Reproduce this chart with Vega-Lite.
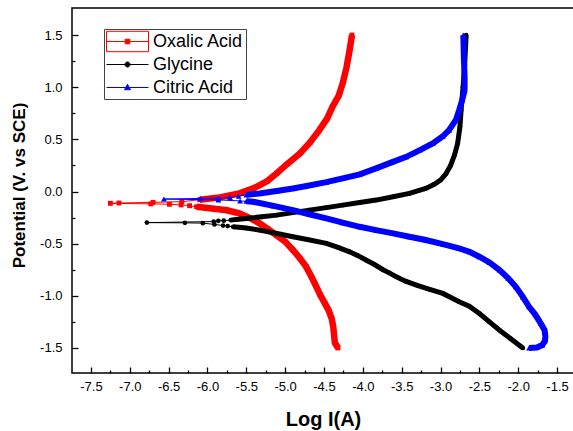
{
  "$schema": "https://vega.github.io/schema/vega-lite/v6.json",
  "width": 502,
  "height": 365,
  "autosize": {"type": "none"},
  "padding": {"left": 72, "top": 8, "right": 0, "bottom": 58},
  "background": "white",
  "config": {
    "view": {"stroke": "#000", "strokeWidth": 1.5},
    "font": "Liberation Sans",
    "locale": {"number": {"decimal": ".", "thousands": ",", "grouping": [3], "currency": ["$", ""], "minus": "-"}},
    "axis": {"domain": false, "grid": false, "tickColor": "#000", "tickWidth": 1.3, "labelColor": "#000", "labelFont": "Liberation Sans", "labelFontSize": 13, "labelFlush": false, "titleFont": "Liberation Sans", "titleColor": "#000", "titleFontWeight": "bold"}
  },
  "data": {"values": [
    {"s":"Oxalic Acid","b":"cathodic","x":-4.32,"y":-1.50},
    {"s":"Oxalic Acid","b":"cathodic","x":-4.36,"y":-1.45},
    {"s":"Oxalic Acid","b":"cathodic","x":-4.37,"y":-1.38},
    {"s":"Oxalic Acid","b":"cathodic","x":-4.38,"y":-1.30},
    {"s":"Oxalic Acid","b":"cathodic","x":-4.40,"y":-1.22},
    {"s":"Oxalic Acid","b":"cathodic","x":-4.44,"y":-1.14},
    {"s":"Oxalic Acid","b":"cathodic","x":-4.49,"y":-1.07},
    {"s":"Oxalic Acid","b":"cathodic","x":-4.55,"y":-0.99},
    {"s":"Oxalic Acid","b":"cathodic","x":-4.60,"y":-0.91},
    {"s":"Oxalic Acid","b":"cathodic","x":-4.66,"y":-0.82},
    {"s":"Oxalic Acid","b":"cathodic","x":-4.73,"y":-0.72},
    {"s":"Oxalic Acid","b":"cathodic","x":-4.81,"y":-0.64},
    {"s":"Oxalic Acid","b":"cathodic","x":-4.90,"y":-0.56},
    {"s":"Oxalic Acid","b":"cathodic","x":-5.00,"y":-0.48},
    {"s":"Oxalic Acid","b":"cathodic","x":-5.11,"y":-0.42},
    {"s":"Oxalic Acid","b":"cathodic","x":-5.22,"y":-0.36},
    {"s":"Oxalic Acid","b":"cathodic","x":-5.33,"y":-0.305},
    {"s":"Oxalic Acid","b":"cathodic","x":-5.45,"y":-0.255},
    {"s":"Oxalic Acid","b":"cathodic","x":-5.59,"y":-0.21},
    {"s":"Oxalic Acid","b":"cathodic","x":-5.75,"y":-0.18},
    {"s":"Oxalic Acid","b":"cathodic","x":-5.97,"y":-0.16},
    {"s":"Oxalic Acid","b":"cathodic","x":-6.14,"y":-0.146},
    {"s":"Oxalic Acid","b":"cathodic","x":-6.23,"y":-0.136},
    {"s":"Oxalic Acid","b":"cathodic","x":-6.34,"y":-0.128},
    {"s":"Oxalic Acid","b":"cathodic","x":-6.49,"y":-0.122},
    {"s":"Oxalic Acid","b":"cathodic","x":-6.73,"y":-0.118},
    {"s":"Oxalic Acid","b":"cathodic","x":-7.25,"y":-0.113},
    {"s":"Oxalic Acid","b":"anodic","x":-7.14,"y":-0.110},
    {"s":"Oxalic Acid","b":"anodic","x":-6.70,"y":-0.104},
    {"s":"Oxalic Acid","b":"anodic","x":-6.33,"y":-0.097},
    {"s":"Oxalic Acid","b":"anodic","x":-6.10,"y":-0.078},
    {"s":"Oxalic Acid","b":"anodic","x":-5.84,"y":-0.056},
    {"s":"Oxalic Acid","b":"anodic","x":-5.59,"y":-0.018},
    {"s":"Oxalic Acid","b":"anodic","x":-5.41,"y":0.03},
    {"s":"Oxalic Acid","b":"anodic","x":-5.23,"y":0.10},
    {"s":"Oxalic Acid","b":"anodic","x":-5.11,"y":0.174},
    {"s":"Oxalic Acid","b":"anodic","x":-4.98,"y":0.26},
    {"s":"Oxalic Acid","b":"anodic","x":-4.81,"y":0.366},
    {"s":"Oxalic Acid","b":"anodic","x":-4.68,"y":0.47},
    {"s":"Oxalic Acid","b":"anodic","x":-4.56,"y":0.589},
    {"s":"Oxalic Acid","b":"anodic","x":-4.46,"y":0.70},
    {"s":"Oxalic Acid","b":"anodic","x":-4.39,"y":0.813},
    {"s":"Oxalic Acid","b":"anodic","x":-4.31,"y":0.92},
    {"s":"Oxalic Acid","b":"anodic","x":-4.26,"y":1.037},
    {"s":"Oxalic Acid","b":"anodic","x":-4.21,"y":1.19},
    {"s":"Oxalic Acid","b":"anodic","x":-4.17,"y":1.356},
    {"s":"Oxalic Acid","b":"anodic","x":-4.14,"y":1.50},
    {"s":"Glycine","b":"cathodic","x":-1.94,"y":-1.50},
    {"s":"Glycine","b":"cathodic","x":-2.10,"y":-1.41},
    {"s":"Glycine","b":"cathodic","x":-2.24,"y":-1.33},
    {"s":"Glycine","b":"cathodic","x":-2.37,"y":-1.25},
    {"s":"Glycine","b":"cathodic","x":-2.50,"y":-1.17},
    {"s":"Glycine","b":"cathodic","x":-2.63,"y":-1.10},
    {"s":"Glycine","b":"cathodic","x":-2.76,"y":-1.057},
    {"s":"Glycine","b":"cathodic","x":-2.97,"y":-0.977},
    {"s":"Glycine","b":"cathodic","x":-3.15,"y":-0.935},
    {"s":"Glycine","b":"cathodic","x":-3.31,"y":-0.897},
    {"s":"Glycine","b":"cathodic","x":-3.45,"y":-0.86},
    {"s":"Glycine","b":"cathodic","x":-3.57,"y":-0.817},
    {"s":"Glycine","b":"cathodic","x":-3.66,"y":-0.78},
    {"s":"Glycine","b":"cathodic","x":-3.74,"y":-0.75},
    {"s":"Glycine","b":"cathodic","x":-3.85,"y":-0.70},
    {"s":"Glycine","b":"cathodic","x":-3.96,"y":-0.657},
    {"s":"Glycine","b":"cathodic","x":-4.07,"y":-0.612},
    {"s":"Glycine","b":"cathodic","x":-4.17,"y":-0.578},
    {"s":"Glycine","b":"cathodic","x":-4.32,"y":-0.535},
    {"s":"Glycine","b":"cathodic","x":-4.47,"y":-0.497},
    {"s":"Glycine","b":"cathodic","x":-4.70,"y":-0.462},
    {"s":"Glycine","b":"cathodic","x":-4.90,"y":-0.434},
    {"s":"Glycine","b":"cathodic","x":-5.12,"y":-0.40},
    {"s":"Glycine","b":"cathodic","x":-5.33,"y":-0.37},
    {"s":"Glycine","b":"cathodic","x":-5.50,"y":-0.35},
    {"s":"Glycine","b":"cathodic","x":-5.67,"y":-0.338},
    {"s":"Glycine","b":"cathodic","x":-5.74,"y":-0.331},
    {"s":"Glycine","b":"cathodic","x":-5.80,"y":-0.326},
    {"s":"Glycine","b":"cathodic","x":-5.91,"y":-0.315},
    {"s":"Glycine","b":"cathodic","x":-6.06,"y":-0.303},
    {"s":"Glycine","b":"cathodic","x":-6.29,"y":-0.300},
    {"s":"Glycine","b":"cathodic","x":-6.78,"y":-0.298},
    {"s":"Glycine","b":"anodic","x":-5.92,"y":-0.288},
    {"s":"Glycine","b":"anodic","x":-5.86,"y":-0.281},
    {"s":"Glycine","b":"anodic","x":-5.79,"y":-0.279},
    {"s":"Glycine","b":"anodic","x":-5.70,"y":-0.274},
    {"s":"Glycine","b":"anodic","x":-5.63,"y":-0.267},
    {"s":"Glycine","b":"anodic","x":-5.50,"y":-0.258},
    {"s":"Glycine","b":"anodic","x":-5.30,"y":-0.242},
    {"s":"Glycine","b":"anodic","x":-5.11,"y":-0.226},
    {"s":"Glycine","b":"anodic","x":-4.90,"y":-0.202},
    {"s":"Glycine","b":"anodic","x":-4.69,"y":-0.178},
    {"s":"Glycine","b":"anodic","x":-4.47,"y":-0.154},
    {"s":"Glycine","b":"anodic","x":-4.26,"y":-0.13},
    {"s":"Glycine","b":"anodic","x":-4.04,"y":-0.106},
    {"s":"Glycine","b":"anodic","x":-3.83,"y":-0.082},
    {"s":"Glycine","b":"anodic","x":-3.61,"y":-0.05},
    {"s":"Glycine","b":"anodic","x":-3.40,"y":-0.018},
    {"s":"Glycine","b":"anodic","x":-3.19,"y":0.03},
    {"s":"Glycine","b":"anodic","x":-3.08,"y":0.07},
    {"s":"Glycine","b":"anodic","x":-3.00,"y":0.11},
    {"s":"Glycine","b":"anodic","x":-2.93,"y":0.17},
    {"s":"Glycine","b":"anodic","x":-2.87,"y":0.25},
    {"s":"Glycine","b":"anodic","x":-2.82,"y":0.35},
    {"s":"Glycine","b":"anodic","x":-2.78,"y":0.46},
    {"s":"Glycine","b":"anodic","x":-2.75,"y":0.62},
    {"s":"Glycine","b":"anodic","x":-2.735,"y":0.78},
    {"s":"Glycine","b":"anodic","x":-2.71,"y":1.00},
    {"s":"Glycine","b":"anodic","x":-2.69,"y":1.20},
    {"s":"Glycine","b":"anodic","x":-2.67,"y":1.50},
    {"s":"Citric Acid","b":"cathodic","x":-1.86,"y":-1.50},
    {"s":"Citric Acid","b":"cathodic","x":-1.76,"y":-1.495},
    {"s":"Citric Acid","b":"cathodic","x":-1.69,"y":-1.472},
    {"s":"Citric Acid","b":"cathodic","x":-1.655,"y":-1.43},
    {"s":"Citric Acid","b":"cathodic","x":-1.65,"y":-1.39},
    {"s":"Citric Acid","b":"cathodic","x":-1.66,"y":-1.33},
    {"s":"Citric Acid","b":"cathodic","x":-1.71,"y":-1.264},
    {"s":"Citric Acid","b":"cathodic","x":-1.78,"y":-1.18},
    {"s":"Citric Acid","b":"cathodic","x":-1.86,"y":-1.105},
    {"s":"Citric Acid","b":"cathodic","x":-1.94,"y":-1.01},
    {"s":"Citric Acid","b":"cathodic","x":-2.03,"y":-0.913},
    {"s":"Citric Acid","b":"cathodic","x":-2.13,"y":-0.83},
    {"s":"Citric Acid","b":"cathodic","x":-2.24,"y":-0.753},
    {"s":"Citric Acid","b":"cathodic","x":-2.37,"y":-0.68},
    {"s":"Citric Acid","b":"cathodic","x":-2.50,"y":-0.625},
    {"s":"Citric Acid","b":"cathodic","x":-2.62,"y":-0.58},
    {"s":"Citric Acid","b":"cathodic","x":-2.76,"y":-0.545},
    {"s":"Citric Acid","b":"cathodic","x":-2.97,"y":-0.505},
    {"s":"Citric Acid","b":"cathodic","x":-3.19,"y":-0.465},
    {"s":"Citric Acid","b":"cathodic","x":-3.40,"y":-0.433},
    {"s":"Citric Acid","b":"cathodic","x":-3.61,"y":-0.401},
    {"s":"Citric Acid","b":"cathodic","x":-3.83,"y":-0.37},
    {"s":"Citric Acid","b":"cathodic","x":-4.04,"y":-0.338},
    {"s":"Citric Acid","b":"cathodic","x":-4.26,"y":-0.298},
    {"s":"Citric Acid","b":"cathodic","x":-4.47,"y":-0.258},
    {"s":"Citric Acid","b":"cathodic","x":-4.69,"y":-0.218},
    {"s":"Citric Acid","b":"cathodic","x":-4.90,"y":-0.178},
    {"s":"Citric Acid","b":"cathodic","x":-5.15,"y":-0.138},
    {"s":"Citric Acid","b":"cathodic","x":-5.41,"y":-0.098},
    {"s":"Citric Acid","b":"cathodic","x":-5.50,"y":-0.094},
    {"s":"Citric Acid","b":"cathodic","x":-5.58,"y":-0.09},
    {"s":"Citric Acid","b":"cathodic","x":-5.86,"y":-0.08},
    {"s":"Citric Acid","b":"cathodic","x":-6.56,"y":-0.072},
    {"s":"Citric Acid","b":"anodic","x":-6.09,"y":-0.066},
    {"s":"Citric Acid","b":"anodic","x":-5.86,"y":-0.062},
    {"s":"Citric Acid","b":"anodic","x":-5.71,"y":-0.056},
    {"s":"Citric Acid","b":"anodic","x":-5.60,"y":-0.044},
    {"s":"Citric Acid","b":"anodic","x":-5.50,"y":-0.032},
    {"s":"Citric Acid","b":"anodic","x":-5.33,"y":-0.018},
    {"s":"Citric Acid","b":"anodic","x":-5.11,"y":0.005},
    {"s":"Citric Acid","b":"anodic","x":-4.90,"y":0.03},
    {"s":"Citric Acid","b":"anodic","x":-4.69,"y":0.058},
    {"s":"Citric Acid","b":"anodic","x":-4.47,"y":0.09},
    {"s":"Citric Acid","b":"anodic","x":-4.26,"y":0.126},
    {"s":"Citric Acid","b":"anodic","x":-4.04,"y":0.165},
    {"s":"Citric Acid","b":"anodic","x":-3.83,"y":0.222},
    {"s":"Citric Acid","b":"anodic","x":-3.63,"y":0.28},
    {"s":"Citric Acid","b":"anodic","x":-3.44,"y":0.333},
    {"s":"Citric Acid","b":"anodic","x":-3.26,"y":0.40},
    {"s":"Citric Acid","b":"anodic","x":-3.10,"y":0.462},
    {"s":"Citric Acid","b":"anodic","x":-2.97,"y":0.53},
    {"s":"Citric Acid","b":"anodic","x":-2.89,"y":0.589},
    {"s":"Citric Acid","b":"anodic","x":-2.80,"y":0.69},
    {"s":"Citric Acid","b":"anodic","x":-2.76,"y":0.78},
    {"s":"Citric Acid","b":"anodic","x":-2.72,"y":0.88},
    {"s":"Citric Acid","b":"anodic","x":-2.69,"y":0.973},
    {"s":"Citric Acid","b":"anodic","x":-2.69,"y":1.10},
    {"s":"Citric Acid","b":"anodic","x":-2.70,"y":1.30},
    {"s":"Citric Acid","b":"anodic","x":-2.706,"y":1.50}
  ]},
  "layer": [
    {
      "encoding": {
        "x": {"field": "x", "type": "quantitative",
              "scale": {"domain": [-7.744, -1.2815], "nice": false, "zero": false},
              "axis": {"orient": "bottom", "values": [-7.5,-7,-6.5,-6,-5.5,-5,-4.5,-4,-3.5,-3,-2.5,-2,-1.5], "format": ".1f", "tickSize": -6, "labelPadding": 13, "title": "Log I(A)", "titleFontSize": 20, "titleY": 52, "titleBaseline": "alphabetic"}},
        "y": {"field": "y", "type": "quantitative",
              "scale": {"domain": [-1.74, 1.76], "nice": false, "zero": false},
              "axis": {"orient": "left", "values": [-1.5,-1,-0.5,0,0.5,1,1.5], "format": ".1f", "tickSize": -6, "labelPadding": 16, "title": "Potential (V. vs SCE)", "titleFontSize": 17, "titleX": -48, "titleY": 177, "titleBaseline": "alphabetic"}}
      },
      "layer": [
        {"transform": [{"filter": "datum.s == 'Oxalic Acid'"}], "mark": {"type": "line", "color": "#ff0000", "strokeWidth": 1}, "encoding": {"order": {"field": "y", "type": "quantitative"}}},
        {"transform": [{"filter": "datum.s == 'Oxalic Acid' && datum.x >= -6.15"}], "mark": {"type": "line", "color": "#ff0000", "strokeWidth": 6.5}, "encoding": {"detail": {"field": "b"}, "order": {"field": "y", "type": "quantitative"}}},
        {"transform": [{"filter": "datum.s == 'Oxalic Acid'"}], "mark": {"type": "point", "shape": "square", "filled": true, "opacity": 1, "color": "#ff0000", "size": 24}},
        {"transform": [{"filter": "datum.s == 'Glycine'"}], "mark": {"type": "line", "color": "#000000", "strokeWidth": 1}, "encoding": {"order": {"field": "y", "type": "quantitative"}}},
        {"transform": [{"filter": "datum.s == 'Glycine' && datum.x >= -5.72"}], "mark": {"type": "line", "color": "#000000", "strokeWidth": 5}, "encoding": {"detail": {"field": "b"}, "order": {"field": "y", "type": "quantitative"}}},
        {"transform": [{"filter": "datum.s == 'Glycine'"}], "mark": {"type": "point", "shape": "circle", "filled": true, "opacity": 1, "color": "#000000", "size": 22}},
        {"transform": [{"filter": "datum.s == 'Citric Acid'"}], "mark": {"type": "line", "color": "#0000ff", "strokeWidth": 1}, "encoding": {"order": {"field": "y", "type": "quantitative"}}},
        {"transform": [{"filter": "datum.s == 'Citric Acid' && datum.x >= -5.55"}], "mark": {"type": "line", "color": "#0000ff", "strokeWidth": 6}, "encoding": {"detail": {"field": "b"}, "order": {"field": "y", "type": "quantitative"}}},
        {"transform": [{"filter": "datum.s == 'Citric Acid'"}], "mark": {"type": "point", "shape": "triangle-up", "filled": true, "opacity": 1, "color": "#0000ff", "size": 34}}
      ]
    },
    {
      "transform": [{"filter": "datum.x > 100"}],
      "mark": {"type": "point", "filled": true, "opacity": 1},
      "encoding": {
        "x": {"field": "x", "type": "quantitative",
              "axis": {"orient": "bottom", "values": [-7.25,-6.75,-6.25,-5.75,-5.25,-4.75,-4.25,-3.75,-3.25,-2.75,-2.25,-1.75], "tickSize": -3, "labels": false, "title": null}},
        "y": {"field": "y", "type": "quantitative",
              "axis": {"orient": "left", "values": [-1.25,-0.75,-0.25,0.25,0.75,1.25], "tickSize": -3, "labels": false, "title": null}},
        "color": {"field": "s", "type": "nominal",
                  "scale": {"domain": ["Oxalic Acid", "Glycine", "Citric Acid"], "range": ["#ff0000", "#000000", "#0000ff"]},
                  "legend": {"orient": "none", "legendX": 32, "legendY": 21, "title": null, "strokeColor": "#444", "fillColor": "#ffffff", "padding": 2, "rowPadding": 0, "gridAlign": "all", "labelFont": "Liberation Sans", "labelFontSize": 18, "labelColor": "#000", "labelOffset": 26, "symbolSize": 400, "symbolStrokeWidth": 1, "symbolOpacity": 1,
                             "encode": {"symbols": {"update": {"fill": {"scale": "color", "field": "value"}, "stroke": {"scale": "color", "field": "value"}}}}}},
        "shape": {"field": "s", "type": "nominal",
                  "scale": {"domain": ["Oxalic Acid", "Glycine", "Citric Acid"],
                            "range": ["M-1,0H3.2M-1,-1.02H3.2M3.2,-1.02V1.02M3.2,1.02H-1M-1,1.02V-1.02M0.87,-0.23H1.33V0.23H0.87Z",
                                      "M-1,0H3.2M0.85,0A0.25,0.25 0 1,0 1.35,0A0.25,0.25 0 1,0 0.85,0Z",
                                      "M-1,0H3.2M1.1,-0.32L1.4,0.22H0.8Z"]},
                  "legend": {"orient": "none", "legendX": 32, "legendY": 21, "title": null, "strokeColor": "#444", "fillColor": "#ffffff", "padding": 2, "rowPadding": 0, "gridAlign": "all", "labelFont": "Liberation Sans", "labelFontSize": 18, "labelColor": "#000", "labelOffset": 26, "symbolSize": 400, "symbolStrokeWidth": 1, "symbolOpacity": 1,
                             "encode": {"symbols": {"update": {"fill": {"scale": "color", "field": "value"}, "stroke": {"scale": "color", "field": "value"}}}}}}
      }
    }
  ],
  "resolve": {"axis": {"x": "independent", "y": "independent"}}
}
